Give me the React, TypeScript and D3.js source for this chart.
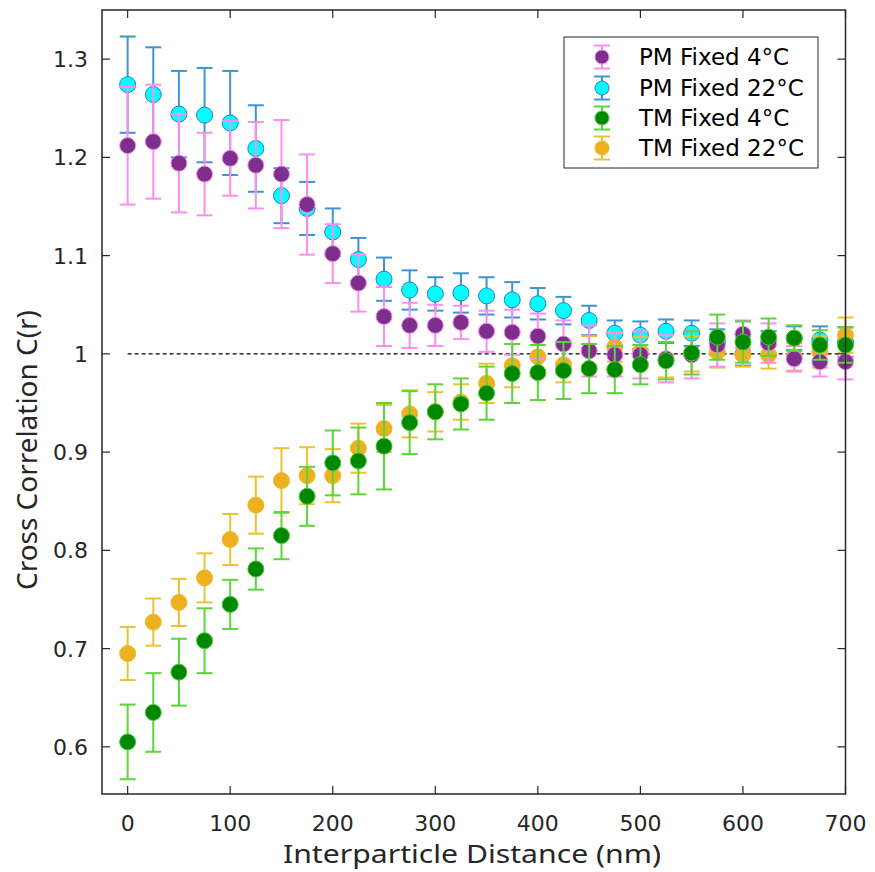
import React from "react";
import * as d3 from "d3";

const distances = [0, 25, 50, 75, 100, 125, 150, 175, 200, 225, 250, 275, 300, 325, 350, 375, 400, 425, 450, 475, 500, 525, 550, 575, 600, 625, 650, 675, 700];

const pm4Mean = [1.212, 1.216, 1.194, 1.183, 1.199, 1.192, 1.183, 1.152, 1.102, 1.072, 1.038, 1.029, 1.029, 1.032, 1.023, 1.022, 1.018, 1.010, 1.003, 0.999, 0.999, 0.995, 0.999, 1.009, 1.020, 1.011, 0.995, 0.992, 0.992];
const pm4Err = [0.060, 0.058, 0.050, 0.042, 0.038, 0.044, 0.055, 0.051, 0.030, 0.029, 0.030, 0.023, 0.021, 0.017, 0.021, 0.023, 0.023, 0.024, 0.026, 0.022, 0.024, 0.024, 0.024, 0.022, 0.014, 0.020, 0.013, 0.015, 0.018];

const pm22Mean = [1.274, 1.264, 1.244, 1.243, 1.235, 1.209, 1.161, 1.148, 1.124, 1.096, 1.076, 1.065, 1.061, 1.062, 1.059, 1.055, 1.051, 1.044, 1.034, 1.021, 1.019, 1.023, 1.021, 1.012, 1.000, 1.011, 1.016, 1.014, 1.012];
const pm22Err = [0.049, 0.048, 0.044, 0.048, 0.053, 0.044, 0.028, 0.027, 0.024, 0.022, 0.022, 0.020, 0.017, 0.020, 0.019, 0.018, 0.016, 0.014, 0.015, 0.013, 0.014, 0.012, 0.013, 0.013, 0.012, 0.012, 0.012, 0.014, 0.015];

const tm4Mean = [0.605, 0.635, 0.676, 0.708, 0.745, 0.781, 0.815, 0.855, 0.889, 0.891, 0.906, 0.930, 0.941, 0.949, 0.960, 0.980, 0.981, 0.983, 0.985, 0.984, 0.989, 0.993, 1.001, 1.017, 1.012, 1.017, 1.016, 1.009, 1.009];
const tm4Err = [0.038, 0.040, 0.034, 0.033, 0.025, 0.021, 0.024, 0.030, 0.033, 0.034, 0.044, 0.032, 0.028, 0.026, 0.027, 0.030, 0.028, 0.029, 0.025, 0.024, 0.020, 0.019, 0.022, 0.023, 0.021, 0.019, 0.013, 0.015, 0.018];

const tm22Mean = [0.695, 0.727, 0.747, 0.772, 0.811, 0.846, 0.871, 0.876, 0.876, 0.904, 0.924, 0.939, 0.941, 0.951, 0.970, 0.988, 0.997, 0.989, 1.003, 1.007, 1.002, 0.994, 1.000, 1.002, 0.999, 0.999, 0.997, 1.002, 1.019];
const tm22Err = [0.027, 0.024, 0.024, 0.025, 0.026, 0.029, 0.033, 0.029, 0.027, 0.025, 0.024, 0.024, 0.020, 0.018, 0.020, 0.022, 0.020, 0.018, 0.015, 0.015, 0.015, 0.018, 0.018, 0.016, 0.012, 0.014, 0.014, 0.016, 0.018];

const xTicks = [0, 100, 200, 300, 400, 500, 600, 700];
const yTicks = [0.6, 0.7, 0.8, 0.9, 1, 1.1, 1.2, 1.3];
const yTickLabels = ["0.6", "0.7", "0.8", "0.9", "1", "1.1", "1.2", "1.3"];

const seriesNames = ["PM Fixed 4°C", "PM Fixed 22°C", "TM Fixed 4°C", "TM Fixed 22°C"];
const seriesMeans = [pm4Mean, pm22Mean, tm4Mean, tm22Mean];
const seriesErrs = [pm4Err, pm22Err, tm4Err, tm22Err];
const faceColors = ["#7E2F8E", "#00FFFF", "#008800", "#EDB120"];
const barColors = ["#FF8CF2", "#3E93D2", "#5CD43A", "#EBC232"];
const edgeColors = ["#F08BE8", "#2B7BC4", "#4CC82E", "#EDB82A"];
const drawOrder = [1, 3, 0, 2];

const FONT = "'DejaVu Sans', sans-serif";
const YFONT = "'Noto Sans', 'DejaVu Sans', sans-serif";
const AXIS = "#262626";

export default function App() {
  const left = 102, right = 845.5, top = 10, bottom = 794;
  const x = d3.scaleLinear().domain([-25, 700]).range([left, right]);
  const y = d3.scaleLinear().domain([0.552, 1.35]).range([bottom, top]);
  const cap = 8;
  const r = 8;

  const legX = 564, legY = 37, legW = 254, legH = 131;
  const legRows = [57, 88, 118, 148];

  return (
    <svg width={875} height={872} style={{ position: "absolute", left: 0, top: 0, background: "#fff" }}>
      <rect x={0} y={0} width={875} height={872} fill="#fff" />
      <line x1={x(0)} x2={x(700)} y1={y(1)} y2={y(1)} stroke="#000" strokeWidth={1.2} strokeDasharray="4,3" />
      {drawOrder.map((si) => (
        <g key={si}>
          {distances.map((d, i) => {
            const m = seriesMeans[si][i];
            const e = seriesErrs[si][i];
            const cx = x(d);
            return (
              <g key={i}>
                <line x1={cx} x2={cx} y1={y(m - e)} y2={y(m + e)} stroke={barColors[si]} strokeWidth={2} />
                <line x1={cx - cap} x2={cx + cap} y1={y(m + e)} y2={y(m + e)} stroke={barColors[si]} strokeWidth={2} />
                <line x1={cx - cap} x2={cx + cap} y1={y(m - e)} y2={y(m - e)} stroke={barColors[si]} strokeWidth={2} />
              </g>
            );
          })}
          {distances.map((d, i) => (
            <circle key={"m" + i} cx={x(d)} cy={y(seriesMeans[si][i])} r={r} fill={faceColors[si]} stroke={edgeColors[si]} strokeWidth={1} />
          ))}
        </g>
      ))}
      <rect x={left} y={top} width={right - left} height={bottom - top} fill="none" stroke={AXIS} strokeWidth={1.5} />
      {xTicks.map((t) => (
        <g key={"xt" + t}>
          <line x1={x(t)} x2={x(t)} y1={bottom} y2={bottom - 8} stroke={AXIS} strokeWidth={1.2} />
          <line x1={x(t)} x2={x(t)} y1={top} y2={top + 8} stroke={AXIS} strokeWidth={1.2} />
          <text x={x(t)} y={831} textAnchor="middle" fontFamily={FONT} fontSize={22} fill={AXIS}>{t}</text>
        </g>
      ))}
      {yTicks.map((t, i) => (
        <g key={"yt" + t}>
          <line x1={left} x2={left + 8} y1={y(t)} y2={y(t)} stroke={AXIS} strokeWidth={1.2} />
          <line x1={right} x2={right - 8} y1={y(t)} y2={y(t)} stroke={AXIS} strokeWidth={1.2} />
          <text x={88} y={y(t) + 8} textAnchor="end" fontFamily={FONT} fontSize={22} fill={AXIS}>{yTickLabels[i]}</text>
        </g>
      ))}
      <text x={472} y={863} textAnchor="middle" fontFamily={YFONT} fontSize={26} textLength={378} lengthAdjust="spacingAndGlyphs" fill={AXIS}>Interparticle Distance (nm)</text>
      <text transform={`translate(37, 450) rotate(-90)`} textAnchor="middle" fontFamily={YFONT} fontSize={27} textLength={280} lengthAdjust="spacingAndGlyphs" fill={AXIS}>Cross Correlation C(r)</text>
      <rect x={legX} y={legY} width={legW} height={legH} fill="#fff" stroke={AXIS} strokeWidth={1} />
      {seriesNames.map((name, si) => {
        const ly = legRows[si];
        const lx = 602;
        return (
          <g key={"lg" + si}>
            <line x1={lx} x2={lx} y1={ly - 11.5} y2={ly + 11.5} stroke={barColors[si]} strokeWidth={2} />
            <line x1={lx - 8} x2={lx + 8} y1={ly - 11.5} y2={ly - 11.5} stroke={barColors[si]} strokeWidth={2} />
            <line x1={lx - 8} x2={lx + 8} y1={ly + 11.5} y2={ly + 11.5} stroke={barColors[si]} strokeWidth={2} />
            <circle cx={lx} cy={ly} r={7} fill={faceColors[si]} stroke={edgeColors[si]} strokeWidth={1} />
            <text x={639} y={ly + 7.5} fontFamily={FONT} fontSize={23} fill="#000">{name}</text>
          </g>
        );
      })}
    </svg>
  );
}
